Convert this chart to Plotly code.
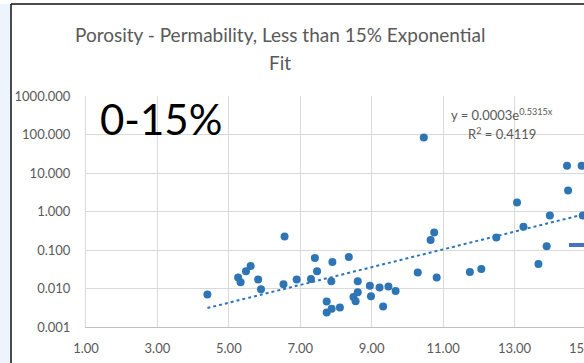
import numpy as np
import plotly.graph_objects as go

# Porosity (%) and permeability (mD) samples, porosity below 15%
porosity = [4.40, 5.26, 5.33, 5.48, 5.61, 5.82, 5.90, 6.53, 6.56, 6.90,
            7.30, 7.41, 7.47, 7.74, 7.74, 7.87, 7.88, 7.90, 8.11, 8.36,
            8.49, 8.55, 8.61, 8.61, 8.95, 8.98, 9.22, 9.32, 9.47, 9.67,
            10.29, 10.46, 10.65, 10.75, 10.82, 11.75, 12.07, 12.49, 13.07, 13.25,
            13.67, 13.90, 13.99, 14.47, 14.50, 14.88, 14.91]
permeability = [0.0070, 0.0192, 0.0146, 0.0281, 0.0386, 0.0171, 0.0095, 0.0129, 0.224, 0.0171,
                0.0177, 0.0624, 0.0281, 0.00457, 0.00237, 0.0155, 0.0030, 0.049, 0.00319, 0.066,
                0.0060, 0.00466, 0.0155, 0.0080, 0.0117, 0.0063, 0.0106, 0.0034, 0.0112, 0.0086,
                0.026, 84.2, 0.183, 0.285, 0.0192, 0.0269, 0.0322, 0.211, 1.72, 0.399,
                0.0434, 0.126, 0.787, 15.4, 3.52, 15.4, 0.787]

# Exponential fit y = a * e^(b x)
fit_a = 0.0003
fit_b = 0.5315
fit_r2 = 0.4119

x_ticks = [1, 3, 5, 7, 9, 11, 13]
x_tick_text = ["1.00", "3.00", "5.00", "7.00", "9.00", "11.00", "13.00"]
y_ticks = [0.001, 0.01, 0.1, 1, 10, 100, 1000]
y_tick_text = ["0.001", "0.010", "0.100", "1.000", "10.000", "100.000", "1000.000"]

title_lines = ["Porosity - Permability, Less than 15% Exponential", "Fit"]

W, H = 584, 363
ML, MR, MT, MB = 86, 0, 96, 36
x_range = [1, 1 + (W - ML) / 35.71]

def px(x):
    return (x - ML) / (W - ML - MR)

def py(y):
    return (H - MB - y) / (H - MT - MB)

blue = "#2e75b6"
grey_text = "#595959"
font = "Lato"

fit_x = np.linspace(min(porosity), 15.2, 200)
fit_y = fit_a * np.exp(fit_b * fit_x)

fig = go.Figure()
fig.add_trace(go.Scatter(x=fit_x, y=fit_y, mode="lines",
                         line=dict(color=blue, width=2, dash="dot"),
                         hoverinfo="skip", showlegend=False))
fig.add_trace(go.Scatter(x=porosity, y=permeability, mode="markers",
                         marker=dict(color=blue, size=8),
                         showlegend=False))

fig.update_xaxes(range=x_range, tickvals=x_ticks, ticktext=x_tick_text,
                 showgrid=True, gridcolor="#d9d9d9", gridwidth=1,
                 showline=True, linecolor="#bfbfbf", linewidth=1,
                 zeroline=False, ticks="outside", ticklen=9, tickcolor="rgba(0,0,0,0)",
                 tickfont=dict(family=font, size=13, color=grey_text))
fig.update_yaxes(type="log", range=[-3, 3], tickvals=y_ticks, ticktext=y_tick_text,
                 showgrid=True, gridcolor="#d9d9d9", gridwidth=1,
                 showline=True, linecolor="#d9d9d9", linewidth=1,
                 zeroline=False, ticks="outside", ticklen=12, tickcolor="rgba(0,0,0,0)",
                 tickfont=dict(family=font, size=13, color=grey_text))

shapes = [
    # left strip outside the chart frame
    dict(type="rect", xref="paper", yref="paper", x0=px(0), x1=px(11), y0=py(363), y1=py(4),
         fillcolor="#eef4fb", line=dict(width=0), layer="below"),
    # chart frame
    dict(type="line", xref="paper", yref="paper", x0=px(11), x1=px(11), y0=py(363), y1=py(4),
         line=dict(color="#111111", width=1.5)),
    dict(type="line", xref="paper", yref="paper", x0=px(11), x1=px(590), y0=py(4), y1=py(4),
         line=dict(color="#111111", width=1.5)),
    # blue marker bar at the right edge
    dict(type="rect", xref="paper", yref="paper", x0=px(569), x1=px(590), y0=py(247), y1=py(243),
         fillcolor="#4472c4", line=dict(width=0)),
]

annotations = [
    dict(text=title_lines[0], xref="paper", yref="paper", x=px(280), y=py(35),
         xanchor="center", yanchor="middle", showarrow=False,
         font=dict(family=font, size=19, color=grey_text)),
    dict(text=title_lines[1], xref="paper", yref="paper", x=px(280), y=py(62),
         xanchor="center", yanchor="middle", showarrow=False,
         font=dict(family=font, size=19, color=grey_text)),
    dict(text="0-15%", xref="paper", yref="paper", x=px(98), y=py(119),
         xanchor="left", yanchor="middle", showarrow=False,
         font=dict(family=font, size=42, color="#000000")),
    dict(text=f"y = {fit_a}e<sup>{fit_b}x</sup>", xref="paper", yref="paper",
         x=px(502), y=py(114), xanchor="center", yanchor="middle", showarrow=False,
         font=dict(family=font, size=13, color=grey_text)),
    dict(text=f"R<sup>2</sup> = {fit_r2}", xref="paper", yref="paper",
         x=px(502), y=py(133), xanchor="center", yanchor="middle", showarrow=False,
         font=dict(family=font, size=13, color=grey_text)),
    dict(text="15.00", xref="paper", yref="paper", x=px(586), y=py(348),
         xanchor="center", yanchor="middle", showarrow=False,
         font=dict(family=font, size=13, color=grey_text)),
]

fig.update_layout(width=W, height=H, margin=dict(l=ML, r=MR, t=MT, b=MB, pad=0),
                  paper_bgcolor="white", plot_bgcolor="white",
                  shapes=shapes, annotations=annotations, showlegend=False)

fig.write_html("out.html")
